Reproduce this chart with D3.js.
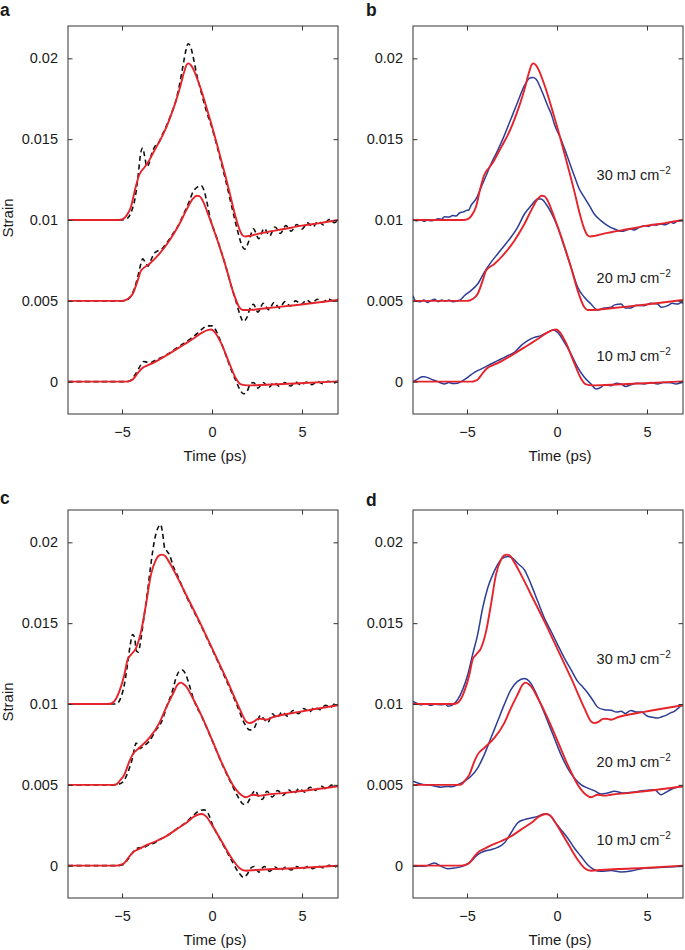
<!DOCTYPE html>
<html><head><meta charset="utf-8">
<script src="https://cdn.jsdelivr.net/npm/d3@7"></script>
<style>
body{margin:0;background:#fff;}
text{font-family:"Liberation Sans",Arial,Helvetica,sans-serif;fill:#1a1a1a;}
</style></head><body>
<svg id="chart" width="685" height="950"></svg>
<script>
// ---- axis definitions (strain shown in units of 1e-3 internally) ----
const xDomain = [-8, 7];
const yDomain = [-2, 22];
const xTicks = [-5, 0, 5];
const yTicks = [0, 5, 10, 15, 20];
const yTickLabels = ["0", "0.005", "0.01", "0.015", "0.02"];
const fluenceLabels = ["30 mJ cm", "20 mJ cm", "10 mJ cm"];
const fluenceLabelY = [12.45, 6.1, 1.3];
const fluenceLabelX = 2.2;

// ---- fitted (red) curves, panels a & b : [time ps, strain x1e-3] ----
const fitAB30 = [[-8,10.0],[-6,10.0],[-5.2,10.0],[-4.96,10.05],[-4.75,10.27],[-4.5,10.82],[-4.25,12.0],[-4.04,12.8],[-3.75,13.26],[-3.5,13.67],[-3.25,14.19],[-3.0,14.7],[-2.75,15.22],[-2.5,15.84],[-2.25,16.56],[-2.0,17.38],[-1.75,18.31],[-1.55,19.15],[-1.4,19.62],[-1.3,19.69],[-1.15,19.55],[-1.0,19.24],[-0.75,18.52],[-0.5,17.69],[-0.25,16.75],[0,15.8],[0.25,14.8],[0.5,13.75],[0.75,12.7],[1.0,11.6],[1.25,10.45],[1.5,9.5],[1.7,9.05],[1.85,8.98],[2.1,9.02],[2.5,9.13],[3,9.24],[4,9.44],[5,9.65],[6,9.81],[7,10.0]];
const fitAB20 = [[-8,5.0],[-5.0,5.0],[-4.87,5.02],[-4.69,5.11],[-4.41,5.42],[-4.13,6.25],[-3.94,6.87],[-3.48,7.28],[-2.93,7.9],[-2.37,8.72],[-1.81,9.75],[-1.44,10.58],[-1.07,11.3],[-0.85,11.5],[-0.7,11.48],[-0.52,11.2],[-0.15,10.16],[0.31,8.72],[0.78,7.07],[1.15,5.63],[1.52,4.6],[1.7,4.43],[2.26,4.45],[3.0,4.54],[4.85,4.76],[7.0,5.05]];
const fitAB10 = [[-8,0],[-4.75,0],[-4.55,0.05],[-4.4,0.14],[-4.13,0.52],[-3.9,0.82],[-3.76,0.92],[-3.3,1.15],[-2.56,1.61],[-1.81,2.12],[-1.07,2.64],[-0.52,3.05],[-0.2,3.2],[-0.05,3.23],[0.13,3.1],[0.5,2.4],[0.96,1.15],[1.33,0.2],[1.61,-0.17],[1.98,-0.23],[3,-0.19],[4.85,-0.1],[7,0.02]];

// ---- fitted (red) curves, panels c & d ----
const fitCD30 = [[-8,10.0],[-5.8,10.0],[-5.61,10.03],[-5.43,10.16],[-5.15,10.78],[-4.87,11.81],[-4.69,12.74],[-4.5,13.05],[-4.22,13.46],[-3.94,14.49],[-3.67,16.14],[-3.39,18.0],[-3.11,18.93],[-2.95,19.18],[-2.78,19.24],[-2.6,19.15],[-2.46,18.93],[-2.0,18.0],[-1.44,16.76],[-0.7,15.11],[0.04,13.36],[0.78,11.61],[1.52,9.75],[1.89,8.93],[2.07,8.82],[2.35,8.93],[2.55,9.08],[2.72,9.09],[3.0,9.03],[3.37,9.18],[4.85,9.51],[7.0,9.92]];
const fitCD20 = [[-8,5.0],[-5.5,5.0],[-5.33,5.02],[-5.15,5.22],[-4.87,5.63],[-4.59,6.45],[-4.41,6.87],[-4.04,7.28],[-3.48,7.9],[-2.93,8.82],[-2.56,9.75],[-2.19,10.58],[-1.91,11.2],[-1.72,11.32],[-1.55,11.2],[-1.44,11.09],[-1.07,10.37],[-0.52,9.13],[0.04,7.69],[0.59,6.25],[1.15,5.01],[1.61,4.39],[1.89,4.23],[2.26,4.39],[2.63,4.33],[3.0,4.39],[3.93,4.49],[4.85,4.6],[7.0,4.91]];
const fitCD10 = [[-8,0],[-5.3,0],[-5.15,0.03],[-4.87,0.16],[-4.59,0.58],[-4.31,0.89],[-4.13,0.99],[-3.67,1.26],[-3.11,1.51],[-2.56,1.81],[-2.0,2.23],[-1.44,2.64],[-0.98,3.05],[-0.7,3.18],[-0.55,3.2],[-0.33,3.05],[0.04,2.43],[0.59,1.4],[1.15,0.37],[1.52,-0.14],[1.89,-0.31],[2.44,-0.27],[3.37,-0.21],[4.85,-0.14],[7.0,0.0]];

// ---- black dashed curves, panel a ----
const dashA30 = [[-8,10.0],[-5.2,10.0],[-4.9,10.02],[-4.7,10.1],[-4.45,10.6],[-4.25,11.5],[-4.1,12.8],[-3.95,14.2],[-3.85,14.45],[-3.75,14.0],[-3.62,13.3],[-3.5,13.5],[-3.35,14.1],[-3.15,14.6],[-2.95,14.8],[-2.75,15.3],[-2.5,15.9],[-2.25,16.6],[-2.0,17.4],[-1.8,18.4],[-1.6,19.6],[-1.45,20.5],[-1.33,20.9],[-1.2,20.75],[-1.05,20.1],[-0.85,19.0],[-0.6,17.9],[-0.3,16.7],[0,15.7],[0.25,14.7],[0.5,13.6],[0.75,12.5],[1.0,11.3],[1.25,10.1],[1.5,9.0],[1.65,8.45],[1.82,8.2],[2.05,8.7],[2.3,9.45],[2.6,8.85],[2.9,9.48],[3.2,9.02],[3.5,9.57],[3.8,9.17],[4.1,9.65],[4.4,9.31],[4.7,9.72],[5.0,9.44],[5.3,9.82],[5.6,9.57],[5.9,9.92],[6.2,9.7],[6.5,10.03],[6.8,9.83],[7.0,10.02]];
const dashA20 = [[-8,5.0],[-5.0,5.0],[-4.75,5.05],[-4.5,5.3],[-4.3,5.8],[-4.1,6.6],[-3.95,7.3],[-3.85,7.6],[-3.72,7.4],[-3.55,7.15],[-3.4,7.5],[-3.2,7.95],[-3.0,8.1],[-2.8,8.2],[-2.5,8.6],[-2.2,9.1],[-1.9,9.6],[-1.6,10.3],[-1.3,11.05],[-1.05,11.75],[-0.8,12.05],[-0.6,12.12],[-0.45,11.85],[-0.3,11.2],[-0.1,10.1],[0.2,9.1],[0.5,8.1],[0.8,7.0],[1.1,5.8],[1.35,4.9],[1.55,4.15],[1.75,3.72],[1.95,4.0],[2.1,4.5],[2.3,4.78],[2.55,4.3],[2.85,4.85],[3.15,4.45],[3.45,4.9],[3.75,4.55],[4.05,4.95],[4.35,4.68],[4.65,5.0],[4.95,4.78],[5.25,5.05],[5.55,4.85],[5.85,5.1],[6.15,4.92],[6.45,5.12],[6.75,4.98],[7.0,5.1]];
const dashA10 = [[-8,0],[-4.8,0],[-4.55,0.05],[-4.35,0.3],[-4.15,0.65],[-3.95,1.05],[-3.8,1.25],[-3.6,1.2],[-3.4,1.18],[-3.2,1.3],[-2.8,1.5],[-2.4,1.75],[-2.0,2.05],[-1.6,2.35],[-1.2,2.65],[-0.8,3.0],[-0.5,3.3],[-0.25,3.45],[0,3.45],[0.15,3.3],[0.35,2.85],[0.6,2.15],[0.85,1.4],[1.1,0.65],[1.35,0.0],[1.55,-0.5],[1.75,-0.75],[1.95,-0.6],[2.1,-0.2],[2.3,-0.05],[2.55,-0.4],[2.85,-0.05],[3.15,-0.35],[3.45,-0.05],[3.75,-0.3],[4.05,-0.05],[4.35,-0.27],[4.65,-0.03],[4.95,-0.22],[5.25,-0.02],[5.55,-0.18],[5.85,0.0],[6.15,-0.12],[6.45,0.03],[6.75,-0.08],[7.0,0.04]];

// ---- black dashed curves, panel c ----
const dashC30 = [[-8,10.0],[-5.5,10.0],[-5.33,10.0],[-5.1,10.3],[-4.87,11.2],[-4.7,12.4],[-4.55,13.6],[-4.41,14.3],[-4.3,14.1],[-4.2,13.3],[-4.1,13.2],[-3.95,14.0],[-3.8,15.2],[-3.6,16.8],[-3.4,18.6],[-3.2,20.1],[-3.0,20.9],[-2.85,21.1],[-2.75,20.6],[-2.62,19.6],[-2.5,19.45],[-2.35,19.2],[-2.15,18.5],[-1.9,17.9],[-1.44,16.7],[-0.7,15.05],[0.04,13.3],[0.78,11.5],[1.4,9.9],[1.8,8.8],[2.1,8.4],[2.3,8.45],[2.5,8.9],[2.7,9.3],[2.9,9.05],[3.1,8.85],[3.35,9.4],[3.6,9.15],[3.9,9.5],[4.2,9.25],[4.5,9.6],[4.8,9.4],[5.1,9.72],[5.4,9.5],[5.7,9.8],[6.0,9.65],[6.3,9.92],[6.6,9.8],[6.85,10.05],[7.0,9.98]];
const dashC20 = [[-8,5.0],[-5.4,5.0],[-5.15,5.05],[-4.87,5.3],[-4.6,6.0],[-4.41,6.7],[-4.3,7.3],[-4.22,7.59],[-4.1,7.4],[-4.0,7.24],[-3.8,7.4],[-3.48,7.7],[-3.11,8.4],[-2.8,8.9],[-2.5,9.9],[-2.2,10.8],[-2.0,11.6],[-1.8,12.05],[-1.65,12.1],[-1.45,11.8],[-1.2,10.95],[-1.07,10.45],[-0.52,9.1],[0.04,7.65],[0.59,6.2],[1.15,4.9],[1.5,4.15],[1.75,3.8],[1.95,3.85],[2.15,4.25],[2.4,4.65],[2.6,4.25],[2.8,4.1],[3.05,4.6],[3.35,4.25],[3.65,4.65],[3.95,4.35],[4.25,4.7],[4.55,4.45],[4.85,4.78],[5.15,4.55],[5.45,4.85],[5.75,4.65],[6.05,4.92],[6.35,4.75],[6.65,4.98],[7.0,4.9]];
const dashC10 = [[-8,0],[-5.2,0],[-4.95,0.05],[-4.7,0.35],[-4.45,0.75],[-4.2,1.05],[-4.05,1.1],[-3.85,1.05],[-3.67,1.2],[-3.3,1.35],[-2.9,1.62],[-2.5,1.85],[-2.0,2.25],[-1.44,2.68],[-1.0,3.15],[-0.7,3.4],[-0.45,3.45],[-0.25,3.3],[0.04,2.5],[0.59,1.35],[1.15,0.2],[1.5,-0.45],[1.75,-0.72],[1.95,-0.55],[2.15,-0.15],[2.35,-0.05],[2.6,-0.4],[2.9,-0.05],[3.2,-0.35],[3.5,-0.08],[3.8,-0.3],[4.1,-0.08],[4.4,-0.27],[4.7,-0.06],[5.0,-0.22],[5.3,-0.05],[5.6,-0.18],[5.9,-0.03],[6.2,-0.13],[6.5,0.02],[6.8,-0.08],[7.0,0.02]];

// ---- measured (blue) curves, panel b ----
const measB30 = [[-8,10.06],[-7.8,9.95],[-7.6,10.02],[-7.4,9.92],[-7.2,9.98],[-7.0,9.95],[-6.8,10.0],[-6.6,10.08],[-6.4,10.05],[-6.26,10.2],[-6.0,10.18],[-5.8,10.28],[-5.6,10.25],[-5.4,10.45],[-5.2,10.5],[-5.06,10.58],[-4.9,10.62],[-4.78,10.89],[-4.5,11.3],[-4.22,12.02],[-3.94,12.74],[-3.67,13.46],[-3.3,14.29],[-2.93,15.22],[-2.56,16.25],[-2.19,17.28],[-1.81,18.31],[-1.54,18.76],[-1.35,18.82],[-1.17,18.72],[-0.89,18.1],[-0.52,17.07],[-0.3,16.5],[-0.15,15.94],[0.22,15.0],[0.59,13.88],[0.96,12.74],[1.24,11.92],[1.52,11.4],[1.8,10.89],[2.07,10.37],[2.44,9.96],[2.81,9.65],[3.19,9.44],[3.56,9.3],[4.11,9.44],[4.3,9.38],[4.5,9.5],[4.85,9.65],[5.1,9.6],[5.3,9.72],[5.5,9.68],[5.78,9.75],[6.0,9.7],[6.33,9.86],[6.5,9.8],[6.7,9.95],[7.0,9.96]];
const measB20 = [[-8,5.32],[-7.85,5.0],[-7.6,4.95],[-7.4,5.05],[-7.2,4.9],[-7.0,5.02],[-6.8,5.1],[-6.6,4.95],[-6.4,5.05],[-6.2,4.98],[-6.0,5.05],[-5.8,4.95],[-5.52,5.0],[-5.33,5.1],[-5.15,5.32],[-4.78,5.63],[-4.41,6.04],[-4.04,6.76],[-3.67,7.38],[-3.3,7.9],[-2.93,8.41],[-2.56,8.93],[-2.19,9.55],[-1.81,10.37],[-1.44,10.89],[-1.07,11.3],[-0.89,11.3],[-0.61,10.99],[-0.33,10.47],[0.04,9.55],[0.41,8.31],[0.78,7.07],[1.15,5.84],[1.52,5.22],[1.89,4.8],[2.26,4.43],[2.63,4.55],[3.0,4.6],[3.2,4.75],[3.56,4.8],[3.8,4.55],[4.11,4.56],[4.4,4.72],[4.85,4.7],[5.2,4.85],[5.59,4.8],[5.8,4.6],[6.15,4.7],[6.4,4.85],[6.7,4.8],[6.9,4.9],[7.0,4.85]];
const measB10 = [[-8,0.0],[-7.74,0.16],[-7.5,0.3],[-7.37,0.31],[-7.0,0.16],[-6.63,0.0],[-6.26,-0.14],[-6.0,-0.05],[-5.8,-0.12],[-5.52,-0.1],[-5.33,0.0],[-4.96,0.27],[-4.59,0.58],[-4.22,0.78],[-3.85,0.99],[-3.48,1.2],[-3.11,1.4],[-2.74,1.61],[-2.37,1.81],[-2.0,2.23],[-1.63,2.54],[-1.26,2.74],[-0.89,2.85],[-0.52,3.05],[-0.24,3.2],[0.04,3.05],[0.41,2.43],[0.78,1.71],[1.15,0.89],[1.52,0.27],[1.89,-0.14],[2.17,-0.45],[2.44,-0.35],[2.6,-0.2],[3.0,-0.25],[3.3,-0.1],[3.56,-0.14],[3.8,-0.3],[4.11,-0.19],[4.4,-0.1],[4.85,-0.14],[5.2,-0.05],[5.59,-0.14],[5.9,-0.05],[6.33,-0.06],[6.6,-0.15],[7.0,-0.04]];

// ---- measured (blue) curves, panel d ----
const measD30 = [[-8,10.16],[-7.7,10.0],[-7.56,9.96],[-7.3,10.02],[-7.0,9.92],[-6.8,9.98],[-6.44,9.95],[-6.2,10.0],[-6.07,9.86],[-5.9,9.9],[-5.8,9.95],[-5.52,10.27],[-5.24,10.89],[-4.96,11.81],[-4.69,13.05],[-4.41,14.29],[-4.13,15.94],[-3.85,17.18],[-3.57,18.0],[-3.3,18.62],[-3.02,19.03],[-2.74,19.13],[-2.46,19.03],[-2.19,18.7],[-1.81,18.3],[-1.44,17.4],[-1.07,16.35],[-0.7,15.32],[-0.33,14.5],[0.04,13.66],[0.41,12.84],[0.78,12.12],[1.15,11.4],[1.43,11.05],[1.7,10.7],[1.98,10.25],[2.26,9.8],[2.63,9.65],[3.0,9.62],[3.3,9.5],[3.56,9.55],[3.8,9.42],[4.11,9.6],[4.4,9.5],[4.67,9.51],[5.04,9.24],[5.3,9.18],[5.59,9.13],[5.8,9.2],[6.06,9.3],[6.3,9.45],[6.52,9.55],[6.8,9.8],[7.0,9.96]];
const measD20 = [[-8,5.22],[-7.56,5.05],[-7.3,5.0],[-7.0,4.97],[-6.7,4.9],[-6.44,4.85],[-6.1,4.9],[-5.89,4.88],[-5.52,5.01],[-5.15,5.22],[-4.78,5.53],[-4.41,6.04],[-4.04,6.87],[-3.67,7.9],[-3.3,8.93],[-2.93,9.96],[-2.56,10.89],[-2.19,11.4],[-1.81,11.57],[-1.54,11.4],[-1.26,10.89],[-0.89,9.96],[-0.52,8.93],[-0.15,7.9],[0.22,6.87],[0.59,6.04],[0.96,5.42],[1.33,5.01],[1.7,4.8],[2.07,4.64],[2.44,4.43],[2.81,4.49],[3.19,4.6],[3.74,4.49],[4.3,4.56],[4.85,4.65],[5.41,4.7],[5.78,4.39],[6.15,4.6],[6.52,4.8],[7.0,4.91]];
const measD10 = [[-8,0.0],[-7.37,-0.04],[-6.81,0.16],[-6.44,-0.04],[-6.07,-0.19],[-5.7,-0.15],[-5.15,0.0],[-4.78,0.27],[-4.41,0.68],[-4.04,0.89],[-3.67,0.99],[-3.3,1.13],[-2.93,1.4],[-2.56,2.02],[-2.19,2.64],[-1.81,2.85],[-1.44,2.95],[-1.07,3.05],[-0.7,3.2],[-0.43,3.15],[-0.15,2.74],[0.22,2.23],[0.59,1.71],[0.96,1.09],[1.33,0.58],[1.7,0.06],[2.07,-0.25],[2.44,-0.35],[3.0,-0.3],[3.56,-0.39],[4.11,-0.33],[4.67,-0.19],[5.22,-0.14],[5.96,-0.1],[7.0,-0.04]];

// ---- layout ----
const W = 270, H = 388;
const RED = "#e5232b", BLUE = "#2b3d96", BLACK = "#111";
const panels = [
  {letter:"a", lx:0, ly:16, left:68, top:26, obs:[dashA30,dashA20,dashA10], kind:"dash", fits:[fitAB30,fitAB20,fitAB10], ylabel:true, labels:false},
  {letter:"b", lx:366, ly:16, left:413, top:26, obs:[measB30,measB20,measB10], kind:"meas", fits:[fitAB30,fitAB20,fitAB10], ylabel:false, labels:true},
  {letter:"c", lx:0, ly:504, left:68, top:510, obs:[dashC30,dashC20,dashC10], kind:"dash", fits:[fitCD30,fitCD20,fitCD10], ylabel:true, labels:false},
  {letter:"d", lx:366, ly:506, left:413, top:510, obs:[measD30,measD20,measD10], kind:"meas", fits:[fitCD30,fitCD20,fitCD10], ylabel:false, labels:true}
];

const svg = d3.select("#chart");
const FONT = 14.5;

panels.forEach((p, pi) => {
  const x = d3.scaleLinear().domain(xDomain).range([p.left, p.left + W]);
  const y = d3.scaleLinear().domain(yDomain).range([p.top + H, p.top]);
  const g = svg.append("g");

  const clipId = "clip" + pi;
  svg.append("clipPath").attr("id", clipId).append("rect")
    .attr("x", p.left).attr("y", p.top).attr("width", W).attr("height", H);

  const line = d3.line().x(d => x(d[0])).y(d => y(d[1])).curve(d3.curveMonotoneX);
  const plot = g.append("g").attr("clip-path", `url(#${clipId})`);

  p.obs.forEach(s => {
    plot.append("path").datum(s).attr("d", line).attr("fill", "none")
      .attr("stroke", p.kind === "dash" ? BLACK : BLUE)
      .attr("stroke-width", p.kind === "dash" ? 1.6 : 1.5)
      .attr("stroke-dasharray", p.kind === "dash" ? "5,3.5" : null)
      .attr("stroke-linejoin", "round");
  });
  p.fits.forEach(s => {
    plot.append("path").datum(s).attr("d", line).attr("fill", "none")
      .attr("stroke", RED).attr("stroke-width", 1.9).attr("stroke-linejoin", "round");
  });

  // axes with inward ticks on all sides
  const styleAxis = sel => {
    sel.select(".domain").remove();
    sel.selectAll(".tick line").attr("stroke", "#333").attr("stroke-width", 1);
    sel.selectAll(".tick text").attr("font-size", FONT).attr("fill", "#1a1a1a")
      .attr("font-family", '"Liberation Sans", Arial, Helvetica, sans-serif');
  };
  g.append("g").attr("transform", `translate(0,${p.top + H})`)
    .call(d3.axisBottom(x).tickValues(xTicks).tickSizeInner(-4.5).tickSizeOuter(0).tickPadding(12.6))
    .call(styleAxis);
  g.append("g").attr("transform", `translate(0,${p.top})`)
    .call(d3.axisTop(x).tickValues(xTicks).tickSizeInner(-4.5).tickSizeOuter(0).tickFormat(""))
    .call(styleAxis);
  g.append("g").attr("transform", `translate(${p.left},0)`)
    .call(d3.axisLeft(y).tickValues(yTicks).tickFormat((d, i) => yTickLabels[i]).tickSizeInner(-4.5).tickSizeOuter(0).tickPadding(10))
    .call(styleAxis);
  g.append("g").attr("transform", `translate(${p.left + W},0)`)
    .call(d3.axisRight(y).tickValues(yTicks).tickSizeInner(-4.5).tickSizeOuter(0).tickFormat(""))
    .call(styleAxis);

  g.append("rect").attr("x", p.left).attr("y", p.top).attr("width", W).attr("height", H)
    .attr("fill", "none").attr("stroke", "#333").attr("stroke-width", 1);

  // x label
  g.append("text").attr("x", x(0) + 3).attr("y", p.top + H + 47)
    .attr("text-anchor", "middle").attr("font-size", 15).text("Time (ps)");
  // y label
  if (p.ylabel) {
    g.append("text").attr("transform", `translate(13,${p.top + H / 2 - 2}) rotate(-90)`)
      .attr("text-anchor", "middle").attr("font-size", 15).text("Strain");
  }
  // panel letter
  g.append("text").attr("x", p.lx).attr("y", p.ly).attr("font-size", 17.5)
    .attr("font-weight", "bold").text(p.letter);

  // fluence annotations
  if (p.labels) {
    fluenceLabels.forEach((t, i) => {
      const tx = g.append("text").attr("x", x(fluenceLabelX)).attr("y", y(fluenceLabelY[i]))
        .attr("font-size", FONT);
      tx.append("tspan").text(t);
      tx.append("tspan").attr("font-size", 10).attr("dy", -6).text("\u22122");
    });
  }
});
</script>
</body></html>
